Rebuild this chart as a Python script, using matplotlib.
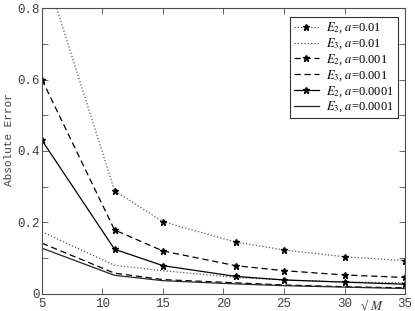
import numpy as np
import matplotlib.pyplot as plt
from matplotlib.ticker import MultipleLocator

# sqrt(M) sample points
sqrt_m = [5, 11, 15, 21, 25, 30, 35]

# absolute errors
e2_a1 = [0.93, 0.289, 0.202, 0.145, 0.123, 0.104, 0.093]
e3_a1 = [0.174, 0.080, 0.065, 0.046, 0.039, 0.033, 0.031]
e2_a2 = [0.60, 0.179, 0.120, 0.079, 0.065, 0.053, 0.046]
e3_a2 = [0.142, 0.058, 0.040, 0.031, 0.025, 0.020, 0.017]
e2_a3 = [0.43, 0.125, 0.079, 0.049, 0.039, 0.033, 0.027]
e3_a3 = [0.128, 0.052, 0.037, 0.028, 0.023, 0.019, 0.015]

labels = [r'$E_2$, $a$=0.01', r'$E_3$, $a$=0.01',
          r'$E_2$, $a$=0.001', r'$E_3$, $a$=0.001',
          r'$E_2$, $a$=0.0001', r'$E_3$, $a$=0.0001']

plt.rcParams['mathtext.fontset'] = 'stix'

fig = plt.figure(figsize=(4.15, 3.11), dpi=100)
ax = fig.add_axes([0.101, 0.055, 0.875, 0.919])

mk = dict(marker='*', ms=5, mfc='black', mec='black')
ax.plot(sqrt_m, e2_a1, ':', color='0.35', lw=0.9, label=labels[0], **mk)
ax.plot(sqrt_m, e3_a1, ':', color='0.35', lw=0.9, label=labels[1])
ax.plot(sqrt_m, e2_a2, '--', color='black', lw=0.9, dashes=(5, 3), label=labels[2], **mk)
ax.plot(sqrt_m, e3_a2, '--', color='black', lw=0.9, dashes=(5, 3), label=labels[3])
ax.plot(sqrt_m, e2_a3, '-', color='black', lw=0.9, label=labels[4], **mk)
ax.plot(sqrt_m, e3_a3, '-', color='0.15', lw=0.9, label=labels[5])

ax.set_xlim(5, 35)
ax.set_ylim(0, 0.8)
ax.set_xticks([5, 10, 15, 20, 25, 30, 35])
ax.set_yticks([0, 0.2, 0.4, 0.6, 0.8])
ax.set_yticklabels(['0', '0.2', '0.4', '0.6', '0.8'])
ax.yaxis.set_minor_locator(MultipleLocator(0.1))
ax.tick_params(which='both', direction='in', top=True, right=True,
               length=4, width=0.6, color='0.3', labelsize=9)
ax.tick_params(axis='x', pad=3)
ax.tick_params(axis='y', pad=1.5)
for lab in ax.get_xticklabels() + ax.get_yticklabels():
    lab.set_family('Liberation Mono')
    lab.set_color('0.25')
for sp in ax.spines.values():
    sp.set_color('0.3')
    sp.set_linewidth(0.8)

ax.set_ylabel('Absolute Error', family='Liberation Mono', fontsize=8,
              color='0.25')
ax.yaxis.set_label_coords(-0.077, 0.54)
ax.text(32.3, -0.012, '\u221a $M$', fontsize=9.5, ha='center', va='top',
        family='Liberation Serif', color='0.2')

leg = ax.legend(loc='upper right', fontsize=9, frameon=True, fancybox=False,
                edgecolor='black', borderpad=0.3, labelspacing=0.1,
                handlelength=2.0, handletextpad=0.6, bbox_to_anchor=(0.997, 0.99))
leg.get_frame().set_linewidth(0.8)
for t in leg.get_texts():
    t.set_family('Liberation Serif')

fig.savefig('out.png', dpi=100)
